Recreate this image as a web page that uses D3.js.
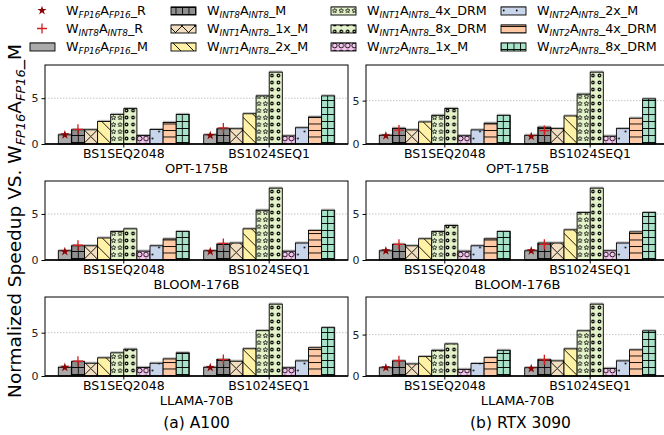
<!DOCTYPE html>
<html><head><meta charset="utf-8">
<script src="https://cdn.jsdelivr.net/npm/d3@7"></script>
<style>body{margin:0;background:#fff} svg{display:block;font-family:"DejaVu Sans",sans-serif}</style>
</head><body><svg id="c" width="664" height="435"></svg>
<script>
// ---------------- data ----------------
const categories = ["BS1SEQ2048", "BS1024SEQ1"];
const models = ["OPT-175B", "BLOOM-176B", "LLAMA-70B"];
const gpus = ["(a) A100", "(b) RTX 3090"];
const series = ["FP16_M", "INT8_M", "INT1_1x_M", "INT1_2x_M", "INT1_4x_DRM",
                "INT1_8x_DRM", "INT2_1x_M", "INT2_2x_M", "INT2_4x_DRM", "INT2_8x_DRM"];
const yTicks = [0, 5];

// bar values: [BS1SEQ2048, BS1024SEQ1], each in `series` order
const a100_opt   = [[1.0, 1.55, 1.55, 2.46, 3.23, 3.86, 0.92, 1.58, 2.35, 3.23],
                    [1.0, 1.66, 1.66, 3.30, 5.25, 7.84, 0.88, 1.77, 2.94, 5.25]];
const a100_bloom = [[1.0, 1.54, 1.54, 2.39, 3.09, 3.38, 0.96, 1.54, 2.28, 3.09],
                    [1.0, 1.73, 1.84, 3.38, 5.40, 7.80, 0.95, 1.84, 3.20, 5.40]];
const a100_llama = [[1.0, 1.66, 1.47, 2.09, 2.67, 3.09, 0.98, 1.47, 1.97, 2.67],
                    [1.0, 1.90, 1.70, 3.14, 5.23, 8.29, 0.95, 1.74, 3.26, 5.58]];
const rtx_opt    = [[1.0, 1.81, 1.62, 2.54, 3.30, 4.10, 0.95, 1.62, 2.39, 3.30],
                    [1.0, 1.93, 1.77, 3.23, 5.74, 8.28, 0.90, 1.77, 2.97, 5.20]];
const rtx_bloom  = [[1.0, 1.70, 1.54, 2.30, 3.09, 3.75, 0.95, 1.54, 2.30, 3.09],
                    [1.0, 1.84, 1.84, 3.27, 5.15, 7.80, 1.00, 1.84, 3.05, 5.15]];
const rtx_llama  = [[1.0, 1.82, 1.45, 2.34, 3.10, 3.87, 0.80, 1.50, 2.22, 3.10],
                    [1.0, 1.97, 1.82, 3.27, 5.45, 8.67, 0.92, 1.82, 3.15, 5.45]];

// "_R" point values: [BS1SEQ2048, BS1024SEQ1]
const a100_opt_fp16R = [1.0, 0.93],  a100_opt_int8R = [1.60, 1.75];
const a100_bloom_fp16R = [0.92, 0.92], a100_bloom_int8R = [1.60, 1.80];
const a100_llama_fp16R = [1.0, 0.98], a100_llama_int8R = [1.70, 1.90];
const rtx_opt_fp16R = [0.95, 0.88],  rtx_opt_int8R = [1.60, 1.55];
const rtx_bloom_fp16R = [1.0, 1.0],  rtx_bloom_int8R = [1.70, 1.70];
const rtx_llama_fp16R = [1.0, 0.90], rtx_llama_int8R = [1.85, 1.95];

const panels = [
  [{v: a100_opt, f: a100_opt_fp16R, i: a100_opt_int8R}, {v: rtx_opt, f: rtx_opt_fp16R, i: rtx_opt_int8R}],
  [{v: a100_bloom, f: a100_bloom_fp16R, i: a100_bloom_int8R}, {v: rtx_bloom, f: rtx_bloom_fp16R, i: rtx_bloom_int8R}],
  [{v: a100_llama, f: a100_llama_fp16R, i: a100_llama_int8R}, {v: rtx_llama, f: rtx_llama_fp16R, i: rtx_llama_int8R}]
];

// legend labels: [W subscript, A subscript, suffix]
const legendLabels = [
  ["FP16","FP16","_R"], ["INT8","INT8","_R"], ["FP16","FP16","_M"],
  ["INT8","INT8","_M"], ["INT1","INT8","_1x_M"], ["INT1","INT8","_2x_M"],
  ["INT1","INT8","_4x_DRM"], ["INT1","INT8","_8x_DRM"], ["INT2","INT8","_1x_M"],
  ["INT2","INT8","_2x_M"], ["INT2","INT8","_4x_DRM"], ["INT2","INT8","_8x_DRM"]
];

// ---------------- drawing ----------------
const svg = d3.select("#c");
const defs = svg.append("defs");
const fills = ["#aaaaaa","#8f8f8f","#f2dfc2","#fff1a6","#e3f2c9","#e3f2c9","#f6c6ee","#c8d5eb","#ffcaa5","#a8e2c8"];

function pat(id, fill, w, h, draw) {
  const p = defs.append("pattern").attr("id", id).attr("patternUnits", "userSpaceOnUse")
    .attr("width", w).attr("height", h);
  p.append("rect").attr("width", w).attr("height", h).attr("fill", fill);
  if (draw) draw(p);
}
function starPath(cx, cy, r) {
  let d = "";
  for (let k = 0; k < 10; k++) {
    const rr = k % 2 ? r * 0.45 : r, a = -Math.PI / 2 + k * Math.PI / 5;
    d += (k ? "L" : "M") + (cx + rr * Math.cos(a)).toFixed(2) + "," + (cy + rr * Math.sin(a)).toFixed(2);
  }
  return d + "Z";
}
const ln = (p, x1, y1, x2, y2, w) => p.append("line").attr("x1", x1).attr("y1", y1).attr("x2", x2).attr("y2", y2)
  .attr("stroke", "#000").attr("stroke-width", w || 0.9);

pat("p0", fills[0], 10, 10);
pat("p1", fills[1], 6.5, 7, p => { ln(p, 0.5, 0, 0.5, 7); ln(p, 0, 0.5, 6.5, 0.5); });
pat("p2", fills[2], 13, 13, p => { ln(p, 0, 0, 13, 13); ln(p, 13, 0, 0, 13); });
pat("p3", fills[3], 13, 13, p => { ln(p, 0, 0, 13, 13); ln(p, -1, 12, 1, 14); ln(p, 12, -1, 14, 1); });
pat("p4", fills[4], 6.5, 7, p => p.append("path").attr("d", starPath(3.25, 3.7, 2.4)).attr("fill", "none").attr("stroke", "#000").attr("stroke-width", 0.7));
pat("p5", fills[5], 6.5, 7, p => p.append("circle").attr("cx", 3.25).attr("cy", 3.5).attr("r", 1.3).attr("fill", "none").attr("stroke", "#000").attr("stroke-width", 1.2));
pat("p6", fills[6], 6.5, 7, p => p.append("circle").attr("cx", 3.25).attr("cy", 3.5).attr("r", 2.4).attr("fill", "none").attr("stroke", "#000").attr("stroke-width", 0.9));
pat("p7", fills[7], 13, 14, p => { p.append("circle").attr("cx", 3.25).attr("cy", 3.5).attr("r", 0.9).attr("fill", "#000");
                                    p.append("circle").attr("cx", 9.75).attr("cy", 10.5).attr("r", 0.9).attr("fill", "#000"); });
pat("p8", fills[8], 6.5, 6.5, p => ln(p, 0, 0.5, 6.5, 0.5));
pat("p9", fills[9], 6.5, 7, p => { ln(p, 0.5, 0, 0.5, 7); ln(p, 0, 0.5, 6.5, 0.5); });

function richLabel(t, wSub, aSub, suffix, fs, pre) {
  const sub = fs * 0.7, sh = fs * 0.22;
  if (pre) t.append("tspan").text(pre);
  t.append("tspan").text("W");
  t.append("tspan").attr("font-size", sub).attr("font-style", "italic").attr("dy", sh).text(wSub);
  t.append("tspan").attr("dy", -sh).text("A");
  t.append("tspan").attr("font-size", sub).attr("font-style", "italic").attr("dy", sh).text(aSub);
  t.append("tspan").attr("dy", -sh).text(suffix);
}

const panelX = [45, 366], panelW = 303, rowY = [65, 181, 297], panelH = 79;
const x0 = d3.scaleBand().domain(categories).range([0, panelW]).paddingInner(0.099).paddingOuter(0.0915);
const x1 = d3.scaleBand().domain(series).range([0, x0.bandwidth()]).padding(0);

panels.forEach((row, ri) => {
  row.forEach((pd, ci) => {
    const g = svg.append("g").attr("transform", `translate(${panelX[ci]},${rowY[ri]})`);
    const ymax = d3.max(pd.v.flat()) * 1.1;
    const y = d3.scaleLinear().domain([0, ymax]).range([panelH, 0]);
    // grid
    g.selectAll(".grid").data(yTicks.filter(d => d > 0)).join("line")
      .attr("x1", 0).attr("x2", panelW).attr("y1", d => y(d)).attr("y2", d => y(d))
      .attr("stroke", "#b8b8b8").attr("stroke-width", 0.8).attr("stroke-dasharray", "1.5,1.5");
    // bars
    categories.forEach((cat, k) => {
      const gg = g.append("g").attr("transform", `translate(${x0(cat)},0)`);
      const vals = pd.v[k].map((v, s) => ({s: series[s], v, idx: s}));
      gg.selectAll(".sh").data(vals).join("rect")
        .attr("x", d => x1(d.s)).attr("y", d => y(d.v) - 1.6).attr("width", x1.bandwidth())
        .attr("height", d => y(0) - y(d.v) + 1.6).attr("fill", "#7a7a7a").attr("opacity", 0.55);
      gg.selectAll(".bar").data(vals).join("rect")
        .attr("x", d => x1(d.s)).attr("y", d => y(d.v)).attr("width", x1.bandwidth())
        .attr("height", d => y(0) - y(d.v)).attr("fill", d => `url(#p${d.idx})`)
        .attr("stroke", "#000").attr("stroke-width", 0.9);
      // markers
      const cxF = x1(series[0]) + x1.bandwidth() / 2, cxI = x1(series[1]) + x1.bandwidth() / 2;
      gg.append("path").attr("d", d3.symbol(d3.symbolStar, 26)())
        .attr("transform", `translate(${cxF},${y(pd.f[k])})`).attr("fill", "#8b0000");
      gg.append("path").attr("d", "M-5,0H5M0,-5V5")
        .attr("transform", `translate(${cxI},${y(pd.i[k])})`).attr("stroke", "#d11f1f").attr("stroke-width", 1.3);
    });
    // frame
    g.append("rect").attr("x", 0).attr("y", 0).attr("width", panelW).attr("height", panelH)
      .attr("fill", "none").attr("stroke", "#000").attr("stroke-width", 1);
    g.append("line").attr("x1", 0).attr("x2", panelW).attr("y1", y(0)).attr("y2", y(0))
      .attr("stroke", "#000").attr("stroke-width", 1.6);
    // axes
    const ya = g.append("g").call(d3.axisLeft(y).tickValues(yTicks).tickSize(3.5).tickPadding(3));
    ya.select(".domain").remove();
    ya.selectAll("text").attr("font-size", 11).attr("font-family", "DejaVu Sans").attr("fill", "#222");
    const xa = g.append("g").attr("transform", `translate(0,${panelH})`)
      .call(d3.axisBottom(x0).tickSize(3.5).tickPadding(2));
    xa.select(".domain").remove();
    xa.selectAll("text").attr("font-size", 12.5).attr("font-family", "DejaVu Sans").attr("fill", "#000");
    // model name
    g.append("text").attr("x", panelW / 2).attr("y", panelH + 29).attr("text-anchor", "middle")
      .attr("font-size", 13).text(models[ri]);
    if (ri === 2) {
      g.append("text").attr("x", panelW / 2 + (ci ? 3 : 0)).attr("y", panelH + 52).attr("text-anchor", "middle")
        .attr("font-size", 15.5).text(gpus[ci]);
    }
  });
});

// y label
const yl = svg.append("text").attr("transform", "translate(21,221) rotate(-90)")
  .attr("text-anchor", "middle").attr("font-size", 18.5);
richLabel(yl, "FP16", "FP16", "_M", 18.5, "Normalized Speedup VS. ");

// legend
const colText = [66, 207, 367, 537], rowBase = [15, 33, 51];
legendLabels.forEach((lb, i) => {
  const c = Math.floor(i / 3), r = i % 3;
  const tx = colText[c], by = rowBase[r], cy = by - 4.5;
  const lg = svg.append("g");
  if (i === 0) {
    lg.append("path").attr("d", d3.symbol(d3.symbolStar, 26)()).attr("transform", `translate(${tx - 24},${cy})`).attr("fill", "#8b0000");
  } else if (i === 1) {
    lg.append("path").attr("d", "M-5,0H5M0,-5V5").attr("transform", `translate(${tx - 24},${cy})`)
      .attr("stroke", "#d11f1f").attr("stroke-width", 1.3);
  } else {
    const si = i - 2;
    lg.append("rect").attr("x", tx - 36).attr("y", cy - 4.5).attr("width", 25).attr("height", 9)
      .attr("fill", "#7a7a7a").attr("opacity", 0.55);
    lg.append("rect").attr("x", tx - 36).attr("y", cy - 3.5).attr("width", 25).attr("height", 8)
      .attr("fill", `url(#p${si})`).attr("stroke", "#000").attr("stroke-width", 0.9);
  }
  const t = lg.append("text").attr("x", tx).attr("y", by).attr("font-size", 12.7);
  richLabel(t, lb[0], lb[1], lb[2], 12.7);
});
</script>
</body></html>
